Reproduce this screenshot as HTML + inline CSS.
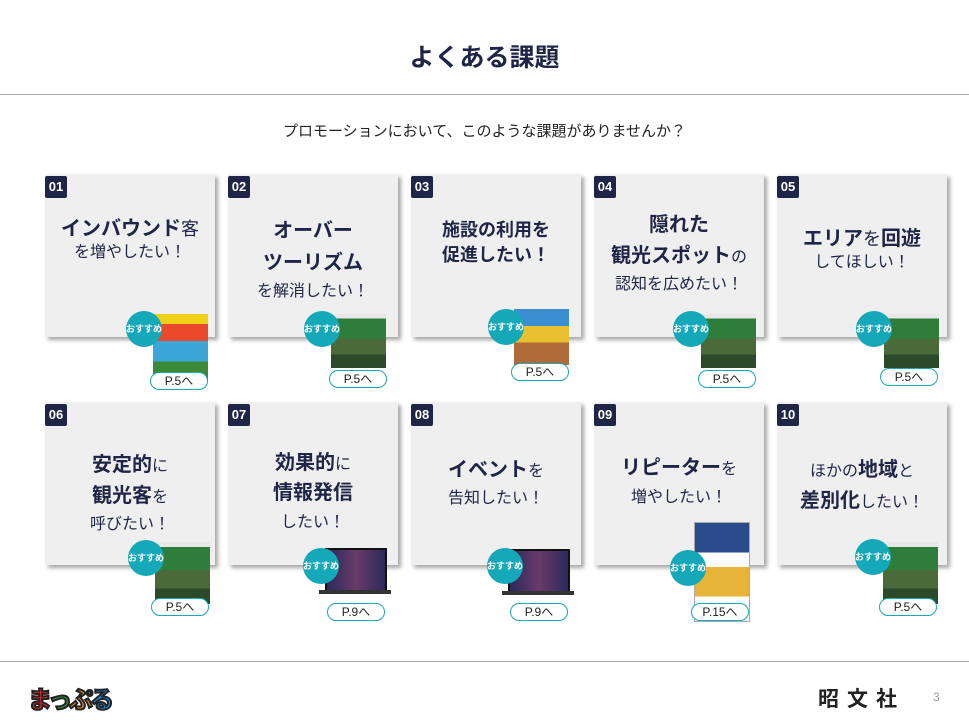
<!DOCTYPE html><html><head><meta charset="utf-8"><style>
body{margin:0;width:969px;height:726px;background:#fff;position:relative;overflow:hidden;font-family:"Liberation Sans","Noto Sans CJK JP",sans-serif;color:#1e2546}
.a{position:absolute}
.card{position:absolute;width:170px;height:163px;background:#efefef;box-shadow:3px 3px 4px rgba(0,0,0,.35)}
.num{position:absolute;left:0;top:2px;width:22px;height:22px;background:#1e2546;color:#fff;font-weight:bold;font-size:13px;line-height:22px;text-align:center;border-radius:2px}
.t{position:absolute;left:0;width:170px;text-align:center;white-space:nowrap;font-size:16px;color:#1e2546}
.b{font-size:20px;font-weight:bold}
.img{position:absolute;width:55px;height:60px;background:linear-gradient(#e8e8e8 0 8%,#2e7d3a 8% 45%,#4a6a3a 45% 75%,#2a4a2a 75%)}
.circ{position:absolute;width:36px;height:36px;border-radius:50%;background:#14a8b8;color:#fff;font-size:9px;font-weight:bold;line-height:36px;text-align:center}
.pill{position:absolute;width:56px;height:16px;border:1.5px solid #14a8b8;border-radius:9px;background:#fff;font-size:12px;line-height:16px;text-align:center;color:#222}
</style></head><body>
<div class="a" style="left:0;top:38px;width:969px;text-align:center;font-size:25px;font-weight:bold">よくある課題</div>
<div class="a" style="left:0;top:94px;width:969px;height:1px;background:#aaa"></div>
<div class="a" style="left:0;top:120px;width:969px;text-align:center;font-size:15px;color:#222">プロモーションにおいて、このような課題がありませんか？</div>

<div class="card" style="left:45px;top:174px"><div class="num">01</div>
<div class="t" style="top:38px"><span class="b">インバウンド</span><span style="font-size:18px">客</span></div>
<div class="t" style="top:64px">を増やしたい！</div></div>
<div class="card" style="left:228px;top:174px"><div class="num">02</div>
<div class="t b" style="top:40px">オーバー</div><div class="t b" style="top:72px">ツーリズム</div><div class="t" style="top:103px">を解消したい！</div></div>
<div class="card" style="left:411px;top:174px"><div class="num">03</div>
<div class="t" style="top:42px;font-size:18px;font-weight:bold">施設の利用を</div><div class="t" style="top:67px;font-size:18px;font-weight:bold">促進したい！</div></div>
<div class="card" style="left:594px;top:174px"><div class="num">04</div>
<div class="t b" style="top:34px">隠れた</div><div class="t" style="top:65px"><span class="b">観光スポット</span>の</div><div class="t" style="top:96px">認知を広めたい！</div></div>
<div class="card" style="left:777px;top:174px"><div class="num">05</div>
<div class="t" style="top:48px"><span class="b">エリア</span><span style="font-size:18px">を</span><span class="b">回遊</span></div><div class="t" style="top:74px">してほしい！</div></div>

<div class="card" style="left:45px;top:402px"><div class="num">06</div>
<div class="t" style="top:46px"><span class="b">安定的</span>に</div><div class="t" style="top:77px"><span class="b">観光客</span>を</div><div class="t" style="top:108px">呼びたい！</div></div>
<div class="card" style="left:228px;top:402px"><div class="num">07</div>
<div class="t" style="top:44px"><span class="b">効果的</span>に</div><div class="t b" style="top:74px">情報発信</div><div class="t" style="top:106px">したい！</div></div>
<div class="card" style="left:411px;top:402px"><div class="num">08</div>
<div class="t" style="top:51px"><span class="b">イベント</span>を</div><div class="t" style="top:82px">告知したい！</div></div>
<div class="card" style="left:594px;top:402px"><div class="num">09</div>
<div class="t" style="top:49px"><span class="b">リピーター</span>を</div><div class="t" style="top:81px">増やしたい！</div></div>
<div class="card" style="left:777px;top:402px"><div class="num">10</div>
<div class="t" style="top:51px">ほかの<span class="b">地域</span>と</div><div class="t" style="top:82px"><span class="b">差別化</span>したい！</div></div>

<div class="img" style="left:153px;top:314px;height:68px;background:linear-gradient(#f2d01a 0 15%,#e84a2a 15% 40%,#3aa7d8 40% 70%,#3a8a3a 70%)"></div><div class="circ" style="left:126px;top:311px">おすすめ</div><div class="pill" style="left:150px;top:372px">P.5へ</div>
<div class="img" style="left:331px;top:314px;height:54px"></div><div class="circ" style="left:304px;top:311px">おすすめ</div><div class="pill" style="left:329px;top:370px">P.5へ</div>
<div class="img" style="left:514px;top:309px;height:56px;background:linear-gradient(#3b8fd0 0 30%,#e8c030 30% 60%,#b06a3a 60%)"></div><div class="circ" style="left:488px;top:309px">おすすめ</div><div class="pill" style="left:511px;top:363px">P.5へ</div>
<div class="img" style="left:701px;top:314px;height:54px"></div><div class="circ" style="left:673px;top:311px">おすすめ</div><div class="pill" style="left:698px;top:370px">P.5へ</div>
<div class="img" style="left:884px;top:314px;height:54px"></div><div class="circ" style="left:856px;top:311px">おすすめ</div><div class="pill" style="left:880px;top:368px">P.5へ</div>
<div class="img" style="left:155px;top:542px;height:62px"></div><div class="circ" style="left:128px;top:540px">おすすめ</div><div class="pill" style="left:151px;top:598px">P.5へ</div>
<div class="a" style="left:325px;top:548px;width:58px;height:40px;background:linear-gradient(90deg,#2a2a5a,#6a3a6a,#2a2a5a);border:2px solid #111"></div><div class="a" style="left:319px;top:590px;width:72px;height:4px;background:#333"></div><div class="circ" style="left:303px;top:548px">おすすめ</div><div class="pill" style="left:327px;top:603px">P.9へ</div>
<div class="a" style="left:508px;top:549px;width:58px;height:40px;background:linear-gradient(90deg,#2a2a5a,#6a3a6a,#2a2a5a);border:2px solid #111"></div><div class="a" style="left:502px;top:591px;width:72px;height:4px;background:#333"></div><div class="circ" style="left:487px;top:548px">おすすめ</div><div class="pill" style="left:510px;top:603px">P.9へ</div>
<div class="a" style="left:694px;top:522px;width:54px;height:98px;background:linear-gradient(#2a4a8a 0 30%,#ffffff 30% 45%,#e7b43a 45% 75%,#fff 75%);border:1px solid #aaa"></div><div class="circ" style="left:670px;top:550px">おすすめ</div><div class="pill" style="left:691px;top:603px">P.15へ</div>
<div class="img" style="left:883px;top:542px;height:62px"></div><div class="circ" style="left:855px;top:539px">おすすめ</div><div class="pill" style="left:879px;top:598px">P.5へ</div>

<div class="a" style="left:0;top:661px;width:969px;height:1px;background:#aaa"></div>
<div class="a" style="left:28px;top:680px;font-size:24px;font-weight:bold;-webkit-text-stroke:2px #222;letter-spacing:-3px"><span style="color:#e8262a">ま</span><span style="color:#2a9a3a">っ</span><span style="color:#f08a1a">ぷ</span><span style="color:#1a8ad8">る</span></div>
<div class="a" style="left:818px;top:683px;font-size:21px;font-weight:bold;color:#222;letter-spacing:8px">昭文社</div>
<div class="a" style="left:933px;top:690px;font-size:12px;color:#999">3</div>
</body></html>
